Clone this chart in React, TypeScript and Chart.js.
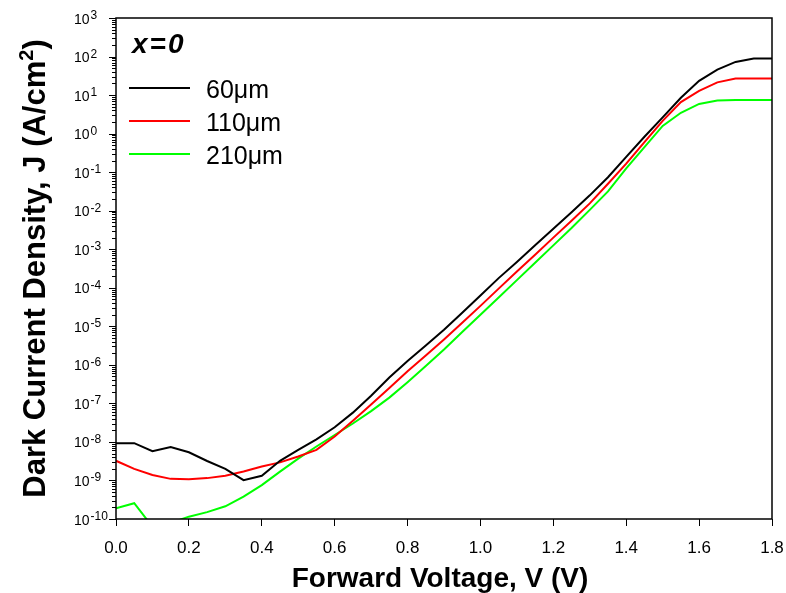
import React, { useEffect, useRef } from 'react';
import { Chart, registerables } from 'chart.js';

Chart.register(...registerables);

const voltage = [0, 0.05, 0.1, 0.15, 0.2, 0.25, 0.3, 0.35, 0.4, 0.45, 0.5, 0.55, 0.6, 0.65, 0.7, 0.75, 0.8, 0.85, 0.9, 0.95, 1.0, 1.05, 1.1, 1.15, 1.2, 1.25, 1.3, 1.35, 1.4, 1.45, 1.5, 1.55, 1.6, 1.65, 1.7, 1.75, 1.8];

const j60 = [9.3e-9, 9.3e-9, 5.75e-9, 7.4e-9, 5.4e-9, 3.2e-9, 2.0e-9, 1.02e-9, 1.32e-9, 3.24e-9, 6.2e-9, 1.17e-8, 2.4e-8, 5.75e-8, 1.58e-7, 4.68e-7, 1.26e-6, 3.16e-6, 8.1e-6, 2.24e-5, 6.3e-5, 1.78e-4, 4.68e-4, 1.26e-3, 3.39e-3, 9.1e-3, 2.5e-2, 7.4e-2, 0.25, 0.83, 2.63, 8.5, 23.4, 45.7, 72.4, 89, 89];

const j110 = [3.24e-9, 2.0e-9, 1.38e-9, 1.1e-9, 1.07e-9, 1.15e-9, 1.32e-9, 1.7e-9, 2.29e-9, 2.95e-9, 4.17e-9, 6.2e-9, 1.38e-8, 3.55e-8, 9.3e-8, 2.51e-7, 6.8e-7, 1.74e-6, 4.57e-6, 1.23e-5, 3.39e-5, 9.5e-5, 2.63e-4, 7.2e-4, 2.0e-3, 5.5e-3, 1.55e-2, 5.0e-2, 0.166, 0.6, 2.14, 6.6, 12.9, 21.4, 26.9, 26.9, 26.9];

const j210 = [1.9e-10, 2.57e-10, 6.3e-11, 7.9e-11, 1.15e-10, 1.51e-10, 2.14e-10, 3.8e-10, 7.6e-10, 1.7e-9, 3.7e-9, 7.6e-9, 1.51e-8, 3.0e-8, 6.3e-8, 1.41e-7, 3.55e-7, 9.3e-7, 2.51e-6, 7.1e-6, 2.0e-5, 5.6e-5, 1.58e-4, 4.47e-4, 1.26e-3, 3.55e-3, 1.05e-2, 3.16e-2, 0.126, 0.447, 1.58, 3.47, 5.9, 7.2, 7.4, 7.4, 7.4];

const seriesLabels = ['60\u03bcm', '110\u03bcm', '210\u03bcm'];
const seriesColors = ['#000000', '#ff0000', '#00ff00'];
const legendTitle = 'x=0';
const xTicks = [0, 0.2, 0.4, 0.6, 0.8, 1.0, 1.2, 1.4, 1.6, 1.8];
const yExponents = [-10, -9, -8, -7, -6, -5, -4, -3, -2, -1, 0, 1, 2, 3];
const xTitle = 'Forward Voltage, V (V)';
const yTitleMain = 'Dark Current Density, J (A/cm';
const yTitleSup = '2';
const yTitleEnd = ')';

const FONT = '"Liberation Sans", Arial, sans-serif';

const decorPlugin = {
  id: 'decor',
  afterDraw(chart: any) {
    const ctx = chart.ctx as CanvasRenderingContext2D;
    const area = chart.chartArea;
    const ys = chart.scales.y;
    ctx.save();
    // frame
    ctx.strokeStyle = '#000';
    ctx.lineWidth = 1.5;
    ctx.strokeRect(area.left, area.top, area.right - area.left, area.bottom - area.top);

    // y ticks
    ctx.lineWidth = 1;
    ctx.beginPath();
    yExponents.forEach((e) => {
      const p = Math.round(ys.getPixelForValue(Math.pow(10, e))) + 0.5;
      ctx.moveTo(area.left, p);
      ctx.lineTo(area.left - 7, p);
      if (e < yExponents[yExponents.length - 1]) {
        for (let k = 2; k <= 9; k++) {
          const q = Math.round(ys.getPixelForValue(k * Math.pow(10, e))) + 0.5;
          ctx.moveTo(area.left, q);
          ctx.lineTo(area.left - 4, q);
        }
      }
    });
    ctx.stroke();

    // y labels
    ctx.fillStyle = '#000';
    ctx.textAlign = 'left';
    ctx.textBaseline = 'alphabetic';
    yExponents.forEach((e) => {
      const p = ys.getPixelForValue(Math.pow(10, e));
      ctx.font = `14px ${FONT}`;
      const bx = 74;
      ctx.fillText('10', bx, p + 5.5);
      const w = ctx.measureText('10').width;
      ctx.font = `12px ${FONT}`;
      ctx.fillText(String(e), bx + w + 1, p + 1);
    });

    // x title
    ctx.font = `bold 28px ${FONT}`;
    ctx.textAlign = 'center';
    ctx.fillText(xTitle, (area.left + area.right) / 2 - 4, 587);

    // y title (rotated)
    ctx.save();
    const cy = (area.top + area.bottom) / 2;
    ctx.translate(45, cy);
    ctx.rotate(-Math.PI / 2);
    ctx.textAlign = 'left';
    ctx.font = `bold 31px ${FONT}`;
    const w1 = ctx.measureText(yTitleMain).width;
    const w3 = ctx.measureText(yTitleEnd).width;
    ctx.font = `bold 20px ${FONT}`;
    const w2 = ctx.measureText(yTitleSup).width;
    const total = w1 + w2 + w3;
    const x0 = -total / 2;
    ctx.font = `bold 31px ${FONT}`;
    ctx.fillText(yTitleMain, x0, 0);
    ctx.font = `bold 20px ${FONT}`;
    ctx.fillText(yTitleSup, x0 + w1, -12);
    ctx.font = `bold 31px ${FONT}`;
    ctx.fillText(yTitleEnd, x0 + w1 + w2, 0);
    ctx.restore();

    // legend
    ctx.textAlign = 'left';
    ctx.font = `italic bold 28px ${FONT}`;
    (ctx as any).letterSpacing = '2px';
    ctx.fillText(legendTitle, 132, 53);
    (ctx as any).letterSpacing = '0px';
    seriesLabels.forEach((lab, i) => {
      const ly = 88 + 33 * i;
      ctx.strokeStyle = seriesColors[i];
      ctx.lineWidth = 2;
      ctx.beginPath();
      ctx.moveTo(129, ly);
      ctx.lineTo(190, ly);
      ctx.stroke();
      ctx.fillStyle = '#000';
      ctx.font = `25px ${FONT}`;
      ctx.fillText(lab, 206, ly + 9.5);
    });
    ctx.restore();
  },
};

export default function App() {
  const ref = useRef<HTMLCanvasElement | null>(null);
  useEffect(() => {
    document.body.style.margin = '0';
    const canvas = ref.current!;
    const series = [j60, j110, j210];
    const chart = new Chart(canvas, {
      type: 'line',
      data: {
        datasets: series.map((s, i) => ({
          label: seriesLabels[i],
          data: voltage.map((v, k) => ({ x: v, y: s[k] })),
          borderColor: seriesColors[i],
          backgroundColor: seriesColors[i],
          borderWidth: 2,
          pointRadius: 0,
          tension: 0,
          fill: false,
        })),
      },
      options: {
        animation: false,
        responsive: false,
        devicePixelRatio: 1,
        layout: { padding: { left: 0, right: 14, top: 18, bottom: 0 } },
        plugins: { legend: { display: false }, tooltip: { enabled: false } },
        scales: {
          x: {
            type: 'linear',
            min: 0,
            max: 1.8,
            afterBuildTicks: (s: any) => {
              s.ticks = xTicks.map((v) => ({ value: v }));
            },
            afterFit: (s: any) => {
              s.height = 74;
              s.paddingLeft = 0;
              s.paddingRight = 0;
            },
            ticks: {
              callback: (v: any) => Number(v).toFixed(1),
              color: '#000',
              font: { family: FONT, size: 17 },
              padding: 12,
              maxRotation: 0,
              autoSkip: false,
            },
            grid: {
              display: true,
              drawOnChartArea: false,
              drawTicks: true,
              tickLength: 7,
              color: '#000',
              lineWidth: 1,
            },
            border: { display: false },
          },
          y: {
            type: 'logarithmic',
            min: 1e-10,
            max: 1e3,
            afterFit: (s: any) => {
              s.width = 116;
              s.paddingTop = 0;
              s.paddingBottom = 0;
            },
            ticks: { display: false },
            grid: { display: false },
            border: { display: false },
          },
        },
      },
      plugins: [decorPlugin],
    } as any);
    return () => chart.destroy();
  }, []);
  return <canvas ref={ref} width={786} height={593} style={{ display: 'block' }} />;
}
